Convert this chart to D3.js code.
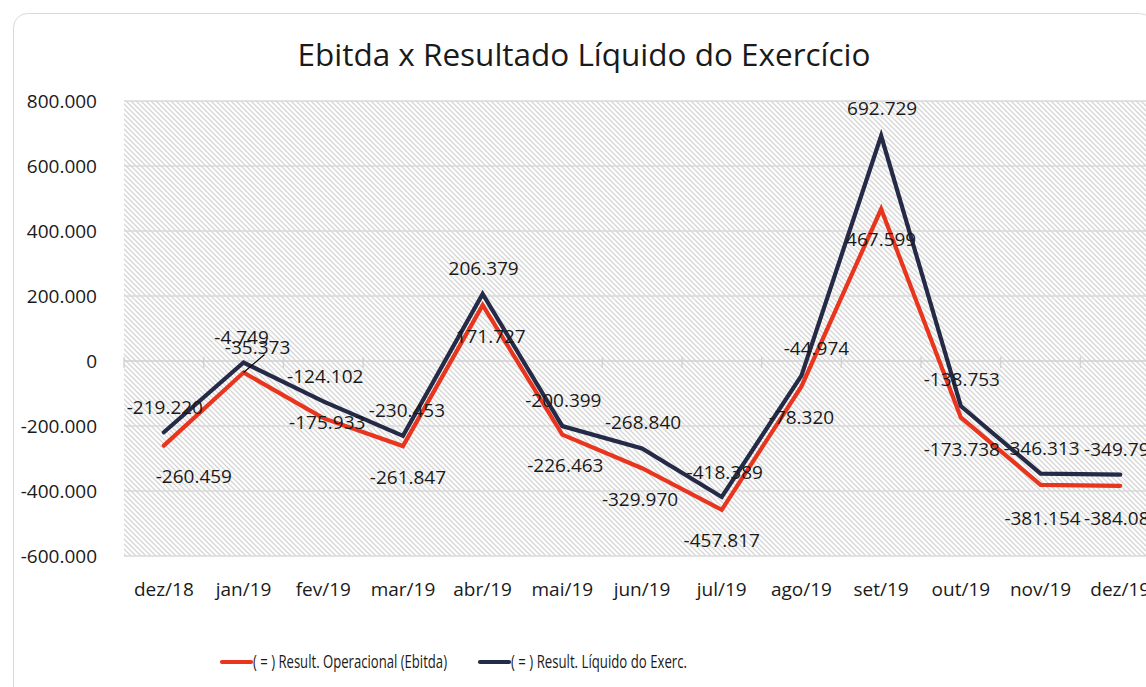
<!DOCTYPE html>
<html>
<head>
<meta charset="utf-8">
<script src="https://cdn.jsdelivr.net/npm/d3@7"></script>
<style>
  body { margin: 0; background: #fff; }
  svg text { font-family: "Open Sans", "Noto Sans", sans-serif; fill: #1a1a1a; }
</style>
</head>
<body>
<svg id="chart"></svg>
<script>
var months = ["dez/18", "jan/19", "fev/19", "mar/19", "abr/19", "mai/19", "jun/19",
              "jul/19", "ago/19", "set/19", "out/19", "nov/19", "dez/19"];
var ebitda = [-260459, -35373, -175933, -261847, 171727, -226463, -329970,
              -457817, -78320, 467599, -173738, -381154, -384085];
var liquido = [-219220, -4749, -124102, -230453, 206379, -200399, -268840,
               -418389, -44974, 692729, -138753, -346313, -349790];
var yTicks = [800000, 600000, 400000, 200000, 0, -200000, -400000, -600000];
var seriesNames = ["( = ) Result. Operacional (Ebitda)", "( = ) Result. Líquido do Exerc."];

// label nudges (px) per point, as placed in the original
var ebitdaLabelOff = [[30, 31], [14, -25], [4, 4], [5, 31], [8, 31], [3, 31], [-2, 31],
                      [0, 31], [0, 31], [0, 30], [1, 32], [2, 33], [2, 33]];
var liquidoLabelOff = [[1, -25], [-2, -25], [2, -25], [4, -26], [1, -26], [1, -26], [1, -26],
                       [3, -25], [15, -27], [1, -28], [1, -27], [1, -25], [2, -25]];

var width = 1146, height = 687;
var margin = { left: 124, top: 101 };
var red = "#e8351d", navy = "#252a46";
var fs = "19px";

var svg = d3.select("#chart").attr("width", width).attr("height", height);

svg.append("rect")
    .attr("x", 13.5).attr("y", 13.5)
    .attr("width", 1140).attr("height", 700)
    .attr("rx", 14)
    .attr("fill", "#fff")
    .attr("stroke", "#d9d9d9");

var defs = svg.append("defs");
var pat = defs.append("pattern")
    .attr("id", "hatch")
    .attr("patternUnits", "userSpaceOnUse")
    .attr("width", 5).attr("height", 5);
pat.append("rect").attr("width", 5).attr("height", 5).attr("fill", "#fff");
pat.append("path")
    .attr("d", "M-1,-1 L6,6 M-1,4 L1,6 M4,-1 L6,1")
    .attr("stroke", "#d6d6d6")
    .attr("stroke-width", 1.3);

var x = d3.scaleBand()
    .domain(months)
    .range([margin.left, margin.left + 13 * 79.7]);

var y = d3.scaleLinear()
    .domain([-600000, 800000])
    .range([556, 101]);

svg.append("rect")
    .attr("x", margin.left).attr("y", y(800000))
    .attr("width", width - margin.left).attr("height", y(-600000) - y(800000))
    .attr("fill", "url(#hatch)");

// gridlines
svg.append("g")
    .selectAll("line")
    .data(yTicks.filter(function (d) { return d !== 0; }))
    .enter().append("line")
    .attr("x1", margin.left).attr("x2", width)
    .attr("y1", function (d) { return y(d); })
    .attr("y2", function (d) { return y(d); })
    .attr("stroke", "#d9d9d9")
    .attr("stroke-width", 1.3);

function fmt(v) {
    return v === 0 ? "0" : d3.format(",")(v).replace(/,/g, ".").replace("−", "-");
}

// y labels
svg.append("g")
    .selectAll("text")
    .data(yTicks)
    .enter().append("text")
    .attr("x", 97)
    .attr("y", function (d) { return y(d); })
    .attr("dy", "0.35em")
    .attr("text-anchor", "end")
    .style("font-size", fs)
    .text(fmt);

// zero axis with ticks
var axis = svg.append("g")
    .attr("transform", "translate(0," + y(0) + ")")
    .call(d3.axisBottom(x).tickSize(0).tickFormat(""));
axis.select(".domain").attr("stroke", "#d0d0d0").attr("stroke-width", 1.3)
    .attr("d", "M" + margin.left + ",0H" + width);
axis.selectAll(".tick").remove();
axis.selectAll("line.sep")
    .data(months)
    .enter().append("line")
    .attr("class", "sep")
    .attr("x1", function (d) { return x(d); })
    .attr("x2", function (d) { return x(d); })
    .attr("y1", -4).attr("y2", 7)
    .attr("stroke", "#d0d0d0")
    .attr("stroke-width", 1.3);

// x labels
svg.append("g")
    .selectAll("text")
    .data(months)
    .enter().append("text")
    .attr("x", function (d) { return x(d) + x.bandwidth() / 2; })
    .attr("y", 589)
    .attr("dy", "0.35em")
    .attr("text-anchor", "middle")
    .style("font-size", fs)
    .text(function (d) { return d; });

var line = d3.line()
    .x(function (d, i) { return x(months[i]) + x.bandwidth() / 2; })
    .y(function (d) { return y(d); });

svg.append("path")
    .datum(ebitda)
    .attr("d", line)
    .attr("fill", "none")
    .attr("stroke", red)
    .attr("stroke-width", 4.2)
    .attr("stroke-linecap", "round");

svg.append("path")
    .datum(liquido)
    .attr("d", line)
    .attr("fill", "none")
    .attr("stroke", navy)
    .attr("stroke-width", 4.2)
    .attr("stroke-linecap", "round");

// leader line for jan/19 ebitda label
var jx = x(months[1]) + x.bandwidth() / 2;
svg.append("line")
    .attr("x1", jx + 21).attr("y1", y(ebitda[1]) - 18)
    .attr("x2", jx).attr("y2", y(ebitda[1]))
    .attr("stroke", "#000")
    .attr("stroke-width", 1.2);

function labels(data, offs) {
    svg.append("g")
        .selectAll("text")
        .data(data)
        .enter().append("text")
        .attr("x", function (d, i) { return x(months[i]) + x.bandwidth() / 2 + offs[i][0]; })
        .attr("y", function (d, i) { return y(d) + offs[i][1]; })
        .attr("dy", "0.35em")
        .attr("text-anchor", "middle")
        .style("font-size", fs)
        .text(fmt);
}
labels(ebitda, ebitdaLabelOff);
labels(liquido, liquidoLabelOff);

// title
svg.append("text")
    .attr("x", 584).attr("y", 55)
    .attr("dy", "0.35em")
    .attr("text-anchor", "middle")
    .style("font-size", "31px")
    .attr("textLength", 573)
    .attr("lengthAdjust", "spacingAndGlyphs")
    .text("Ebitda x Resultado Líquido do Exercício");

// legend
var legend = svg.append("g");
var legX = [222, 480];
var legW = [194, 176];
[red, navy].forEach(function (c, i) {
    legend.append("line")
        .attr("x1", legX[i]).attr("x2", legX[i] + 29)
        .attr("y1", 662).attr("y2", 662)
        .attr("stroke", c).attr("stroke-width", 4.2)
        .attr("stroke-linecap", "round");
    legend.append("text")
        .attr("x", legX[i] + 31).attr("y", 662)
        .attr("dy", "0.35em")
        .style("font-size", "18.5px")
        .attr("textLength", legW[i])
        .attr("lengthAdjust", "spacingAndGlyphs")
        .text(seriesNames[i]);
});
</script>
</body>
</html>
